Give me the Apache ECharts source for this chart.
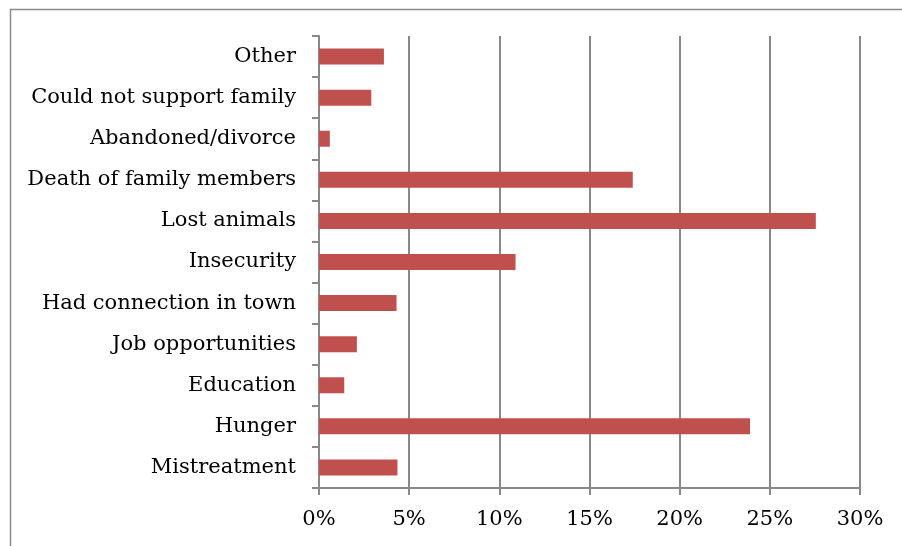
<!DOCTYPE html>
<html>
<head>
<meta charset="utf-8">
<script src="https://cdn.jsdelivr.net/npm/echarts@6/dist/echarts.min.js"></script>
<style>
  html, body { margin: 0; padding: 0; background: #fff; }
  #main { width: 902px; height: 546px; }
</style>
</head>
<body>
<div id="main"></div>
<script>
// 分类（从下到上）
var categories = ['Mistreatment', 'Hunger', 'Education', 'Job opportunities',
  'Had connection in town', 'Insecurity', 'Lost animals', 'Death of family members',
  'Abandoned/divorce', 'Could not support family', 'Other'];
// 百分比数值
var values = [4.35, 23.9, 1.4, 2.1, 4.3, 10.9, 27.55, 17.4, 0.6, 2.9, 3.6];
var xTicks = [0, 5, 10, 15, 20, 25, 30];

var chart = echarts.init(document.getElementById('main'));

var option = {
  animation: false,
  textStyle: { fontFamily: 'DejaVu Serif' },
  graphic: [{
    type: 'rect',
    shape: { x: 10.5, y: 9.5, width: 1000, height: 1000 },
    style: { fill: 'none', stroke: '#888', lineWidth: 1.5 },
    silent: true
  }],
  grid: { left: 319, right: 42, top: 36, bottom: 58, containLabel: false },
  xAxis: {
    type: 'value',
    min: xTicks[0],
    max: xTicks[xTicks.length - 1],
    interval: 5,
    axisLine: { show: true, lineStyle: { color: '#888', width: 2 } },
    axisTick: { show: true, length: 7, lineStyle: { color: '#888', width: 2 } },
    splitLine: { show: true, lineStyle: { color: '#888', width: 2 } },
    axisLabel: {
      color: '#000', fontSize: 21, margin: 21, fontFamily: 'DejaVu Serif',
      formatter: function (v) { return v + '%'; }
    }
  },
  yAxis: {
    type: 'category',
    data: categories,
    axisLine: { show: true, lineStyle: { color: '#888', width: 2 } },
    axisTick: { show: true, length: 7, lineStyle: { color: '#888', width: 2 } },
    axisLabel: { color: '#000', fontSize: 21, margin: 23, fontFamily: 'DejaVu Serif' }
  },
  series: [{
    type: 'bar',
    data: values,
    barWidth: 16,
    itemStyle: { color: '#C0504D' }
  }]
};

chart.setOption(option);
</script>
</body>
</html>
